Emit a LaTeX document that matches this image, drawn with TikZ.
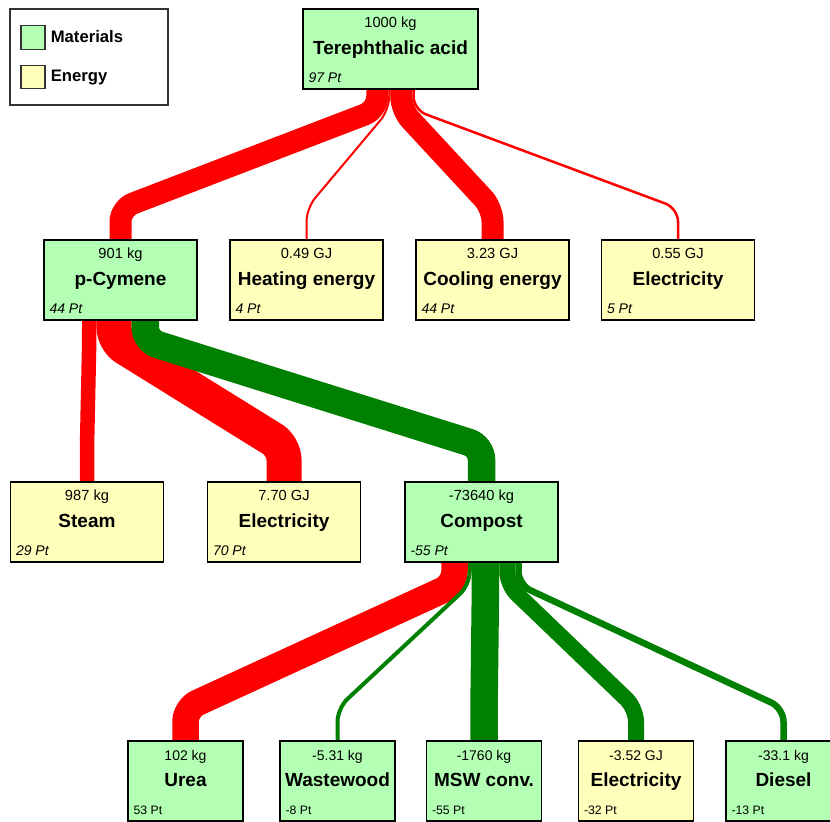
\documentclass[tikz,border=0pt]{standalone}
\usepackage{fontspec}
\setmainfont{Liberation Sans}
\usetikzlibrary{backgrounds}
\definecolor{mat-green}{RGB}{179, 255, 179}
\definecolor{eng-yellow}{RGB}{255, 255, 187}
\definecolor{flow-red}{RGB}{255, 0, 0}
\definecolor{flow-green}{RGB}{0, 128, 0}

\begin{document}
\begin{tikzpicture}[x=0.75pt, y=-0.75pt,
    box/.style={rectangle, draw=black, line width=1.1pt, inner sep=1pt, minimum height=60pt,
        text height=10.5pt, text depth=2.25pt, font=\fontsize{14.25pt}{16pt}\selectfont\bfseries},
    bigbox/.style={box, minimum width=131.25pt},
    midbox/.style={box, minimum width=114.75pt},
    smallbox/.style={box, minimum width=86.25pt},
    mat/.style={fill=mat-green},
    eng/.style={fill=eng-yellow},
    val/.style={anchor=base, inner sep=0pt, font=\fontsize{11pt}{13pt}\selectfont},
    score/.style={anchor=base west, inner sep=0pt, font=\fontsize{10.5pt}{12pt}\selectfont\itshape},
    smallval/.style={val, font=\fontsize{10.5pt}{12pt}\selectfont},
    smallscore/.style={score, font=\fontsize{9.2pt}{11pt}\selectfont},
    legbox/.style={rectangle, draw=black!80, line width=0.8pt, minimum width=118.5pt, minimum height=72pt},
    legkey/.style={rectangle, draw=black!80, line width=0.8pt, inner sep=0pt, minimum width=18pt, minimum height=17.5pt},
    legtext/.style={anchor=base west, inner sep=0pt, font=\fontsize{12.5pt}{14pt}\selectfont\bfseries},
    redflow/.style={draw=flow-red, line width={0.375pt*#1}, rounded corners=10pt},
    greenflow/.style={draw=flow-green, line width={0.375pt*#1}, rounded corners=10pt}]

    \useasboundingbox (0,0) rectangle (830,821);
    \clip (0,0) rectangle (830,821);

    % legend
    \node[legbox] (legend) at (89,57) {};
    \node[legkey, mat] (key-mat) at (33,37.5) {};
    \node[legkey, eng] (key-eng) at (33,77) {};
    \node[legtext] (lab-mat) at ([shift={(5,5.2)}]key-mat.east) {Materials};
    \node[legtext] (lab-eng) at ([shift={(5,4.7)}]key-eng.east) {Energy};

    % top
    \node[bigbox, mat] (tpa) at (390.5,49) {Terephthalic acid};
    \node[val] (tpa-v) at ([shift={(0,19)}]tpa.north) {1000 kg};
    \node[score] (tpa-p) at ([shift={(6,74)}]tpa.north west) {97 Pt};

    % second row
    \node[midbox, mat] (pcy) at (120.5,280) {p-Cymene};
    \node[val] (pcy-v) at ([shift={(0,19)}]pcy.north) {901 kg};
    \node[score] (pcy-p) at ([shift={(6,74)}]pcy.north west) {44 Pt};
    \node[midbox, eng] (heat) at (306.5,280) {Heating energy};
    \node[val] (heat-v) at ([shift={(0,19)}]heat.north) {0.49 GJ};
    \node[score] (heat-p) at ([shift={(6,74)}]heat.north west) {4 Pt};
    \node[midbox, eng] (cool) at (492.5,280) {Cooling energy};
    \node[val] (cool-v) at ([shift={(0,19)}]cool.north) {3.23 GJ};
    \node[score] (cool-p) at ([shift={(6,74)}]cool.north west) {44 Pt};
    \node[midbox, eng] (elec) at (678,280) {Electricity};
    \node[val] (elec-v) at ([shift={(0,19)}]elec.north) {0.55 GJ};
    \node[score] (elec-p) at ([shift={(6,74)}]elec.north west) {5 Pt};

    % third row
    \node[midbox, eng] (steam) at (87,522) {Steam};
    \node[val] (steam-v) at ([shift={(0,19)}]steam.north) {987 kg};
    \node[score] (steam-p) at ([shift={(6,74)}]steam.north west) {29 Pt};
    \node[midbox, eng] (elec2) at (284,522) {Electricity};
    \node[val] (elec2-v) at ([shift={(0,19)}]elec2.north) {7.70 GJ};
    \node[score] (elec2-p) at ([shift={(6,74)}]elec2.north west) {70 Pt};
    \node[midbox, mat] (comp) at (481.5,522) {Compost};
    \node[val] (comp-v) at ([shift={(0,19)}]comp.north) {-73640 kg};
    \node[score] (comp-p) at ([shift={(6,74)}]comp.north west) {-55 Pt};

    % fourth row
    \node[smallbox, mat] (urea) at (185.5,781) {Urea};
    \node[smallval] (urea-v) at ([shift={(0,20)}]urea.north) {102 kg};
    \node[smallscore] (urea-p) at ([shift={(6,74)}]urea.north west) {53 Pt};
    \node[smallbox, mat] (wood) at (337.5,781) {Wastewood};
    \node[smallval] (wood-v) at ([shift={(0,20)}]wood.north) {-5.31 kg};
    \node[smallscore] (wood-p) at ([shift={(6,74)}]wood.north west) {-8 Pt};
    \node[smallbox, mat] (msw) at (484,781) {MSW conv.};
    \node[smallval] (msw-v) at ([shift={(0,20)}]msw.north) {-1760 kg};
    \node[smallscore] (msw-p) at ([shift={(6,74)}]msw.north west) {-55 Pt};
    \node[smallbox, eng] (elec3) at (636,781) {Electricity};
    \node[smallval] (elec3-v) at ([shift={(0,20)}]elec3.north) {-3.52 GJ};
    \node[smallscore] (elec3-p) at ([shift={(6,74)}]elec3.north west) {-32 Pt};
    \node[smallbox, mat] (diesel) at (783.5,781) {Diesel};
    \node[smallval] (diesel-v) at ([shift={(0,20)}]diesel.north) {-33.1 kg};
    \node[smallscore] (diesel-p) at ([shift={(6,74)}]diesel.north west) {-13 Pt};

    % flows, width follows the score
    \begin{scope}[on background layer]
        \draw[redflow=44] ([shift={(-13.25,0)}]tpa.south) -- ++(0,20) -- ([shift={(0,-31)}]pcy.north) -- (pcy.north);
        \draw[redflow=4] ([shift={(-1.25,0)}]tpa.south) -- ++(0,20) -- ([shift={(0,-31)}]heat.north) -- (heat.north);
        \draw[redflow=44] ([shift={(10.75,0)}]tpa.south) -- ++(0,20) -- ([shift={(0,-31)}]cool.north) -- (cool.north);
        \draw[redflow=5] ([shift={(23,0)}]tpa.south) -- ++(0,20) -- ([shift={(0,-31)}]elec.north) -- (elec.north);

        \draw[redflow=29] ([shift={(-31.25,0)}]pcy.south) -- ++(0,20) -- ([shift={(0,-35)}]steam.north) -- (steam.north);
        \draw[redflow=70] ([shift={(-6.5,0)}]pcy.south) -- ++(0,20) -- ([shift={(0,-35)}]elec2.north) -- (elec2.north);
        \draw[greenflow=55] ([shift={(24.75,0)}]pcy.south) -- ++(0,20) -- ([shift={(0,-35)}]comp.north) -- (comp.north);

        \draw[redflow=53] ([shift={(-27,0)}]comp.south) -- ++(0,22) -- ([shift={(0,-32)}]urea.north) -- (urea.north);
        \draw[greenflow=8] ([shift={(-11.75,0)}]comp.south) -- ++(0,22) -- ([shift={(0,-32)}]wood.north) -- (wood.north);
        \draw[greenflow=55] ([shift={(4,0)}]comp.south) -- ++(0,22) -- ([shift={(0,-32)}]msw.north) -- (msw.north);
        \draw[greenflow=32] ([shift={(25.75,0)}]comp.south) -- ++(0,22) -- ([shift={(0,-32)}]elec3.north) -- (elec3.north);
        \draw[greenflow=13] ([shift={(37,0)}]comp.south) -- ++(0,22) -- ([shift={(0,-32)}]diesel.north) -- (diesel.north);
    \end{scope}
\end{tikzpicture}
\end{document}
